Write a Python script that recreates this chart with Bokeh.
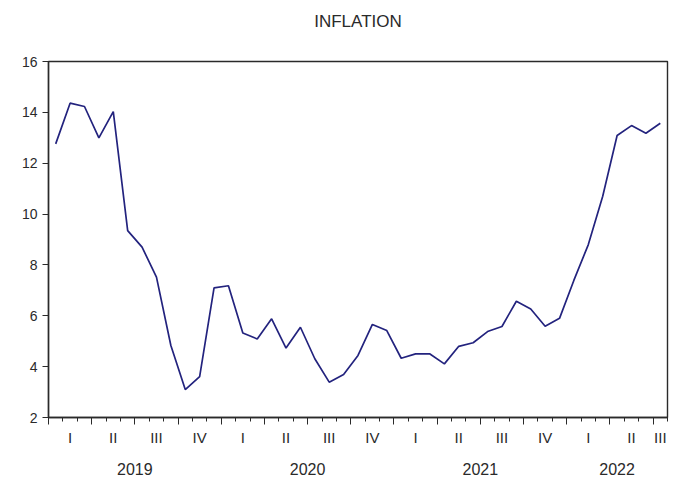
from bokeh.plotting import figure
from bokeh.models import Range1d, FixedTicker, CustomJSTickFormatter, LinearAxis
from bokeh.embed import file_html
from bokeh.resources import INLINE

# Monthly inflation, 2019M01 - 2022M07
months = [f"{y}M{m:02d}" for y in (2019, 2020, 2021, 2022) for m in range(1, 13)][:43]
inflation = [
    12.76, 14.36, 14.23, 13.00, 14.03, 9.35, 8.70, 7.52, 4.83, 3.10, 3.61, 7.10,
    7.18, 5.32, 5.09, 5.88, 4.73, 5.55, 4.31, 3.39, 3.69, 4.44, 5.66, 5.42,
    4.33, 4.50, 4.50, 4.11, 4.80, 4.94, 5.38, 5.58, 6.57, 6.27, 5.59, 5.90,
    7.40, 8.80, 10.70, 13.09, 13.48, 13.18, 13.57,
]
years = ["2019", "2020", "2021", "2022"]
quarters = ["I", "II", "III", "IV"]
y_ticks = [2, 4, 6, 8, 10, 12, 14, 16]
chart_title = "INFLATION"

FONT = "Liberation Sans"
INK = "#2a2a2a"

n = len(inflation)
idx = list(range(n))
x_lo, x_hi = -0.5, n - 0.5

p = figure(width=680, height=477, output_backend="svg", toolbar_location=None,
           x_range=Range1d(x_lo, x_hi), y_range=Range1d(2, 16),
           min_border_left=48, min_border_right=13, min_border_top=61,
           min_border_bottom=60)
p.background_fill_color = "white"
p.border_fill_color = "white"
p.grid.visible = False
p.outline_line_color = INK
p.outline_line_width = 1.4

# series
p.line(idx, inflation, line_color="#23237e", line_width=1.7)

# y axis
ya = p.yaxis[0]
ya.ticker = FixedTicker(ticks=y_ticks, minor_ticks=[])
ya.major_tick_out = 6
ya.major_tick_in = 0
ya.minor_tick_out = 0
ya.axis_line_color = INK
ya.axis_line_width = 1.4
ya.major_tick_line_color = INK
ya.major_label_text_font = FONT
ya.major_label_text_font_size = "14px"
ya.major_label_text_color = INK
ya.major_label_standoff = 5

# x axis: month ticks, longer at quarter starts (no labels on this one)
month_edges = [i - 0.5 for i in range(n + 1)]
quarter_edges = [e for e in month_edges if round(e + 0.5) % 3 == 0 and e < x_hi]
xa = p.xaxis[0]
xa.ticker = FixedTicker(ticks=quarter_edges, minor_ticks=month_edges)
xa.formatter = CustomJSTickFormatter(code="return ''")
xa.major_tick_out = 7
xa.major_tick_in = 0
xa.minor_tick_out = 4
xa.minor_tick_in = 0
xa.axis_line_color = INK
xa.axis_line_width = 1.4
xa.major_tick_line_color = INK
xa.minor_tick_line_color = INK
xa.major_label_text_font_size = "1px"
xa.major_label_standoff = 0


def label_axis(ticks, texts, size, standoff, place="below"):
    ax = LinearAxis(ticker=FixedTicker(ticks=ticks, minor_ticks=[]),
                    major_label_overrides=dict(zip(ticks, texts)))
    ax.axis_line_color = None
    ax.major_tick_line_color = None
    ax.minor_tick_line_color = None
    ax.major_tick_out = 0
    ax.major_tick_in = 0
    ax.major_label_standoff = standoff
    ax.major_label_text_font = FONT
    ax.major_label_text_font_size = size
    ax.major_label_text_color = INK
    p.add_layout(ax, place)
    return ax


# quarter labels at the middle month of each quarter (last one partial)
q_x, q_t = [], []
for q0 in range(0, n, 3):
    span = list(range(q0, min(q0 + 3, n)))
    q_x.append(span[len(span) // 2])
    q_t.append(quarters[(q0 // 3) % 4])
label_axis(q_x, q_t, "15px", 4)

# year labels centred on each year's span
y_x = []
for k in range(len(years)):
    lo = k * 12 - 0.5
    hi = min((k + 1) * 12 - 0.5, x_hi)
    y_x.append((lo + hi) / 2)
label_axis(y_x, years, "16px", 14)

# chart title centred over the plot area
label_axis([(x_lo + x_hi) / 2], [chart_title], "17px", 31, place="above")

open("out.html", "w").write(file_html(p, INLINE))
